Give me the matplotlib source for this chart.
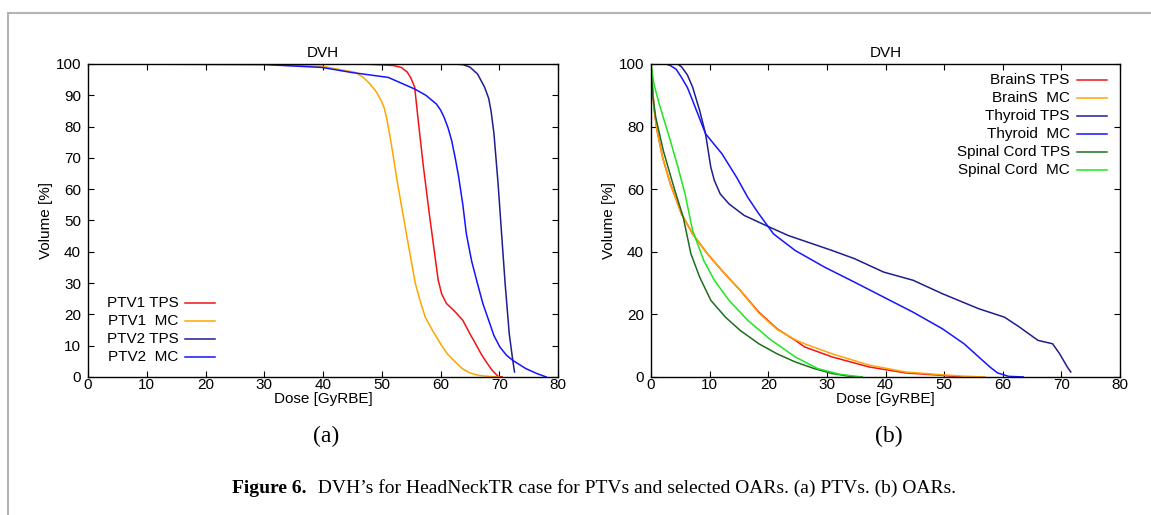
import numpy as np
import matplotlib
matplotlib.use("Agg")
import matplotlib.pyplot as plt
from matplotlib.lines import Line2D

plt.rcParams["font.family"] = ["Liberation Sans", "DejaVu Sans"]
plt.rcParams["font.size"] = 11

# (a) PTVs
ptv1_tps_x = [0, 40, 48, 52, 53.3, 54.3, 54.9, 55.3, 55.6, 56.2, 57.1, 58.1, 59.0, 59.6, 60.2, 61.0, 62.5, 63.8, 65.0, 66.0, 66.9, 67.9, 68.8, 69.8, 70.5]
ptv1_tps_y = [100, 100, 99.9, 99.5, 98.9, 97.5, 95.7, 94, 92.6, 82, 67, 52, 39.4, 31, 26.5, 23.5, 20.8, 18.1, 13.8, 10.5, 7.4, 4.5, 2.1, 0.2, 0]
ptv1_mc_x = [0, 30, 40, 45.5, 46.8, 48, 49.1, 49.9, 50.4, 50.8, 51.3, 51.8, 52.7, 53.7, 54.9, 55.7, 56.5, 57.4, 58.6, 60, 61.2, 62.5, 63.7, 65, 66.5, 68.2, 70]
ptv1_mc_y = [100, 99.9, 99.2, 97.3, 95.8, 93.6, 91, 88.3, 86, 83, 78, 72.3, 61.7, 51, 38.3, 30, 24.5, 19.1, 15, 10.6, 7.3, 4.8, 2.7, 1.3, 0.5, 0.2, 0]
ptv2_tps_x = [0, 60, 62, 63.8, 65, 66.3, 67.5, 68.2, 68.6, 69.1, 69.8, 70.4, 71.0, 71.7, 72.3, 72.6]
ptv2_tps_y = [100, 100, 100, 99.8, 99, 96.8, 92.6, 89, 85, 77.7, 61.7, 45.7, 29.8, 13.8, 5.3, 1.6]
ptv2_mc_x = [0, 30, 39.8, 44.8, 51.1, 55.6, 57.5, 59.3, 60.0, 60.6, 61.3, 61.9, 62.5, 63.1, 63.8, 64.4, 65.3, 66.3, 67.2, 68.2, 69.1, 70.1, 71.2, 72.3, 74.5, 76.4, 78]
ptv2_mc_y = [100, 99.8, 98.9, 97.3, 95.7, 92, 90, 87.2, 85.3, 83, 79.5, 75.5, 70, 63.8, 55, 45.7, 37, 29.8, 23.5, 18.1, 13.2, 9.6, 7, 5.3, 2.7, 1.1, 0]

# (b) OARs
brain_tps_x = [0, 0.5, 1.0, 2.0, 3.3, 5.2, 7.1, 9.6, 12.1, 15.2, 18.4, 21.5, 24.6, 26.2, 30.9, 37.2, 43.4, 49.7, 53]
brain_tps_y = [100, 86, 79, 70, 61.7, 52.1, 45.7, 39.4, 34, 27.7, 20.7, 15.4, 11.7, 9.6, 6.4, 3.2, 1.3, 0.5, 0]
brain_mc_x = [0, 0.5, 1.0, 2.0, 3.3, 5.2, 7.1, 9.6, 12.1, 15.2, 18.4, 21.5, 24.6, 26.2, 30.9, 37.2, 43.4, 49.7, 53, 57]
brain_mc_y = [100, 86, 79, 70, 61.7, 52.1, 45.7, 39.4, 34, 27.7, 20.4, 15.2, 11.9, 10.6, 7.4, 3.8, 1.6, 0.7, 0.3, 0]
thy_tps_x = [0, 4.5, 5.2, 6.2, 7.1, 8.3, 9.3, 10.2, 10.8, 11.8, 13.3, 15.9, 19.6, 23.4, 25.9, 30.9, 34.7, 39.7, 44.7, 49.7, 55.9, 60.3, 62.8, 66, 68.5, 69.7, 71, 71.6]
thy_tps_y = [100, 100, 99.1, 96.5, 92.6, 85.1, 77.7, 67, 62.8, 58.5, 55.3, 51.6, 48.4, 45.2, 43.6, 40.4, 37.8, 33.5, 30.9, 26.6, 21.8, 19.1, 16, 11.7, 10.6, 7.4, 3.2, 1.6]
thy_mc_x = [0, 2.5, 3.3, 4.3, 5.2, 6.2, 7.1, 9.3, 12.1, 14.6, 16.5, 18.4, 20.9, 24.6, 29.6, 34.7, 39.7, 44.7, 49.7, 53.4, 55.9, 57.8, 59.1, 61, 63.5]
thy_mc_y = [100, 100, 99.5, 98.3, 95.7, 92.5, 88.3, 77.7, 71.3, 63.8, 57.4, 52.1, 45.7, 40.4, 35.1, 30.3, 25.5, 20.7, 15.4, 10.6, 6.4, 3.2, 1.3, 0.2, 0]
sc_tps_x = [0, 0.3, 0.8, 2.1, 3.9, 5.5, 6.8, 8.3, 10.2, 12.7, 15.2, 18.4, 21.5, 24.6, 27.8, 30.9, 34, 36]
sc_tps_y = [100, 90, 83, 72.3, 60.6, 51, 39.4, 31.9, 24.5, 19.1, 14.9, 10.6, 7.4, 4.8, 2.7, 1.1, 0.2, 0]
sc_mc_x = [0, 0.5, 1.4, 3.3, 4.6, 5.8, 7.1, 9.0, 10.8, 13.3, 16.5, 20.2, 24.6, 28.4, 32.1, 35.9]
sc_mc_y = [100, 93.6, 87.2, 75.5, 67, 58.5, 46.8, 37.2, 30.9, 24.5, 18.1, 12.2, 6.4, 2.7, 0.9, 0]

labels_a = ["PTV1 TPS", "PTV1  MC", "PTV2 TPS", "PTV2  MC"]
labels_b = ["BrainS TPS", "BrainS  MC", "Thyroid TPS", "Thyroid  MC",
            "Spinal Cord TPS", "Spinal Cord  MC"]

RED, ORANGE, NAVY, BLUE, DKGREEN, GREEN = "#f21414", "#ffa500", "#1e1e8f", "#1414ff", "#1d6e1d", "#1ee61e"


def style_axes(ax, yticks):
    ax.set_xlim(0, 80)
    ax.set_ylim(0, 100)
    ax.set_xticks(np.arange(0, 81, 10))
    ax.set_yticks(yticks)
    ax.tick_params(direction="in", length=4, width=0.8, top=True, right=True)
    ax.tick_params(axis="x", pad=1)
    ax.tick_params(axis="y", pad=5)
    for s in ax.spines.values():
        s.set_linewidth(1.0)
    ax.set_title("DVH", fontsize=11, pad=5)
    ax.set_xlabel("Dose [GyRBE]", labelpad=0)
    ax.set_ylabel("Volume [%]", labelpad=2)


def draw_key(ax, labels, colors, tx, lx0, lx1, ys):
    # gnuplot style key: right aligned text, sample line after it
    for lab, col, y in zip(labels, colors, ys):
        ax.text(tx, y, lab, transform=ax.transAxes, ha="right", va="center", fontsize=11)
        ax.plot([lx0, lx1], [y, y], transform=ax.transAxes, color=col, lw=1.1, clip_on=False)


fig = plt.figure(figsize=(11.51, 5.15), dpi=100)
ax1 = fig.add_axes([0.0765, 0.268, 0.4083, 0.6078])
ax2 = fig.add_axes([0.5656, 0.268, 0.4075, 0.6078])

lw = 1.1
ax1.plot(ptv1_tps_x, ptv1_tps_y, color=RED, lw=lw)
ax1.plot(ptv1_mc_x, ptv1_mc_y, color=ORANGE, lw=lw)
ax1.plot(ptv2_tps_x, ptv2_tps_y, color=NAVY, lw=lw)
ax1.plot(ptv2_mc_x, ptv2_mc_y, color=BLUE, lw=lw)
style_axes(ax1, np.arange(0, 101, 10))
draw_key(ax1, labels_a, [RED, ORANGE, NAVY, BLUE], 0.192, 0.207, 0.270,
         [0.236, 0.178, 0.121, 0.064])

ax2.plot(brain_tps_x, brain_tps_y, color=RED, lw=lw)
ax2.plot(brain_mc_x, brain_mc_y, color=ORANGE, lw=lw)
ax2.plot(thy_tps_x, thy_tps_y, color=NAVY, lw=lw)
ax2.plot(thy_mc_x, thy_mc_y, color=BLUE, lw=lw)
ax2.plot(sc_tps_x, sc_tps_y, color=DKGREEN, lw=lw)
ax2.plot(sc_mc_x, sc_mc_y, color=GREEN, lw=lw)
style_axes(ax2, np.arange(0, 101, 20))
draw_key(ax2, labels_b, [RED, ORANGE, NAVY, BLUE, DKGREEN, GREEN], 0.893, 0.909, 0.972,
         [0.949, 0.891, 0.834, 0.777, 0.719, 0.662])

# sub-captions and figure caption
serif = ["Liberation Serif", "DejaVu Serif"]
fig.text(0.2832, 0.152, "(a)", family=serif, fontsize=17, ha="center", va="center")
fig.text(0.772, 0.152, "(b)", family=serif, fontsize=17, ha="center", va="center")
bold = fig.text(232 / 1151, 0.043, "Figure 6.", family=serif, fontsize=14,
                weight="bold", ha="left", va="baseline")
cap = fig.text(0, 0, "  DVH\u2019s for HeadNeckTR case for PTVs and selected OARs. (a) PTVs. (b) OARs.",
               family=serif, fontsize=14, ha="left", va="baseline")
fig.canvas.draw()
bb = bold.get_window_extent()
cap.set_position(((bb.x1 + 1) / fig.bbox.width, 0.043))

# page frame
frame_col = "#b4b4b4"
fig.add_artist(Line2D([0.0072, 1.0], [0.974, 0.974], color=frame_col, lw=1.5))
fig.add_artist(Line2D([0.0072, 0.0072], [0.0, 0.974], color=frame_col, lw=1.5))

fig.savefig("out.png", dpi=100)
